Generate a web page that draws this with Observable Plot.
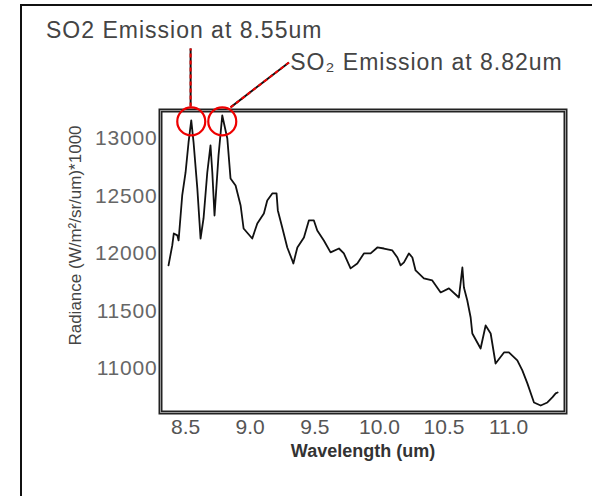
<!DOCTYPE html>
<html>
<head>
<meta charset="utf-8">
<script src="https://cdn.jsdelivr.net/npm/d3@7"></script>
<script src="https://cdn.jsdelivr.net/npm/@observablehq/plot@0.6"></script>
<style>
  html, body { margin: 0; padding: 0; background: #fff; }
  #wrap { position: relative; width: 592px; height: 496px; overflow: hidden; }
  #border { position: absolute; left: 20px; top: 4px; width: 600px; height: 600px; border: 2px solid #111; box-sizing: border-box; }
  #chart { position: absolute; left: 0; top: 0; }
  svg { font-family: "Liberation Sans", Arial, Helvetica, sans-serif; }
  .annot text { letter-spacing: 1px; }
  .yax text { letter-spacing: 0.8px; }
</style>
</head>
<body>
<div id="wrap"><div id="border"></div><div id="chart"></div></div>
<script>
// Wavelength (um) and radiance (W/m^2/sr/um * 1000)
const wavelength = [8.368, 8.397, 8.409, 8.436, 8.446, 8.474, 8.500, 8.523, 8.544, 8.562, 8.591, 8.616, 8.639, 8.668, 8.693, 8.707, 8.724, 8.755, 8.784, 8.823, 8.848, 8.887, 8.926, 8.949, 9.016, 9.055, 9.106, 9.132, 9.171, 9.204, 9.214, 9.248, 9.287, 9.326, 9.334, 9.365, 9.416, 9.454, 9.493, 9.519, 9.570, 9.622, 9.687, 9.725, 9.777, 9.829, 9.880, 9.932, 9.984, 10.035, 10.100, 10.139, 10.164, 10.190, 10.228, 10.255, 10.280, 10.344, 10.409, 10.474, 10.538, 10.615, 10.628, 10.642, 10.654, 10.680, 10.706, 10.719, 10.783, 10.822, 10.861, 10.899, 10.964, 11.002, 11.067, 11.106, 11.145, 11.196, 11.248, 11.300, 11.338, 11.364, 11.379];
const radiance = [11896, 12070, 12174, 12157, 12113, 12504, 12704, 12965, 13157, 12965, 12565, 12130, 12304, 12704, 12939, 12704, 12330, 12852, 13200, 13000, 12652, 12591, 12417, 12217, 12130, 12261, 12348, 12461, 12522, 12522, 12374, 12226, 12052, 11939, 11913, 12052, 12139, 12287, 12287, 12200, 12113, 12009, 12043, 12000, 11870, 11913, 12000, 12000, 12052, 12043, 12026, 11965, 11896, 11922, 12000, 11965, 11852, 11783, 11765, 11661, 11696, 11617, 11739, 11878, 11704, 11591, 11443, 11304, 11174, 11374, 11304, 11043, 11139, 11139, 11070, 10983, 10870, 10704, 10678, 10704, 10748, 10783, 10791];

const xTicks = [8.5, 9.0, 9.5, 10.0, 10.5, 11.0];
const yTicks = [11000, 11500, 12000, 12500, 13000];

// Annotations: circled peaks, leader lines and labels
const circleWave = [8.544, 8.784];
const circleVal = [13148, 13148];
const annotText = ["SO2 Emission at 8.55um", "SO\u2082 Emission at 8.82um"];
const annotWave = [7.42, 9.31];
const annotVal = [13939, 13661];
const leaderX1 = [8.539, 8.848];
const leaderY1 = [13278, 13270];
const leaderX2 = [8.539, 9.300];
const leaderY2 = [13783, 13661];

const series = wavelength.map((w, i) => ({w, r: radiance[i]}));
const circles = circleWave.map((w, i) => ({w, r: circleVal[i]}));
const labels = annotText.map((t, i) => ({t, w: annotWave[i], r: annotVal[i]}));
const leaders = leaderX1.map((x1, i) => ({x1, y1: leaderY1[i], x2: leaderX2[i], y2: leaderY2[i]}));

const chart = Plot.plot({
  width: 592,
  height: 496,
  marginLeft: 160,
  marginRight: 27,
  marginTop: 110,
  marginBottom: 84,
  style: {background: "transparent", fontFamily: "Liberation Sans, Arial, sans-serif"},
  x: {domain: [8.306, 11.44], label: null},
  y: {domain: [10617, 13243], label: null},
  marks: [
    Plot.axisX({ticks: xTicks, tickFormat: d3.format(".1f"), tickSize: 0, tickPadding: 7, fontSize: 21, fill: "#555", label: null}),
    Plot.axisY({ticks: yTicks, tickFormat: d => String(d), tickSize: 0, tickPadding: 3, fontSize: 21, fill: "#666", label: null, className: "yax"}),
    Plot.text(["Wavelength (um)"], {frameAnchor: "bottom", dy: 44, fontSize: 18, fill: "#333", fontWeight: "bold"}),
    Plot.text(["Radiance (W/m\u00b2/sr/um)*1000"], {frameAnchor: "left", textAnchor: "middle", dx: -85, dy: -26, rotate: -90, fontSize: 17, fill: "#444"}),
    Plot.line(series, {x: "w", y: "r", stroke: "#111", strokeWidth: 1.8}),
    Plot.frame({stroke: "#222", strokeWidth: 4}),
    Plot.frame({stroke: "#999", strokeWidth: 1}),
    Plot.link(leaders, {x1: "x1", y1: "y1", x2: "x2", y2: "y2", stroke: "#111", strokeWidth: 2}),
    Plot.link(leaders, {x1: "x1", y1: "y1", x2: "x2", y2: "y2", stroke: "#e00", strokeWidth: 2, strokeDasharray: "4,3"}),
    Plot.dot(circles, {x: "w", y: "r", r: 14, stroke: "#e00", strokeWidth: 2.2, fill: "none"}),
    Plot.text(labels, {x: "w", y: "r", text: "t", textAnchor: "start", fontSize: 23, fill: "#444", className: "annot"})
  ]
});
document.getElementById("chart").appendChild(chart);
</script>
</body>
</html>
